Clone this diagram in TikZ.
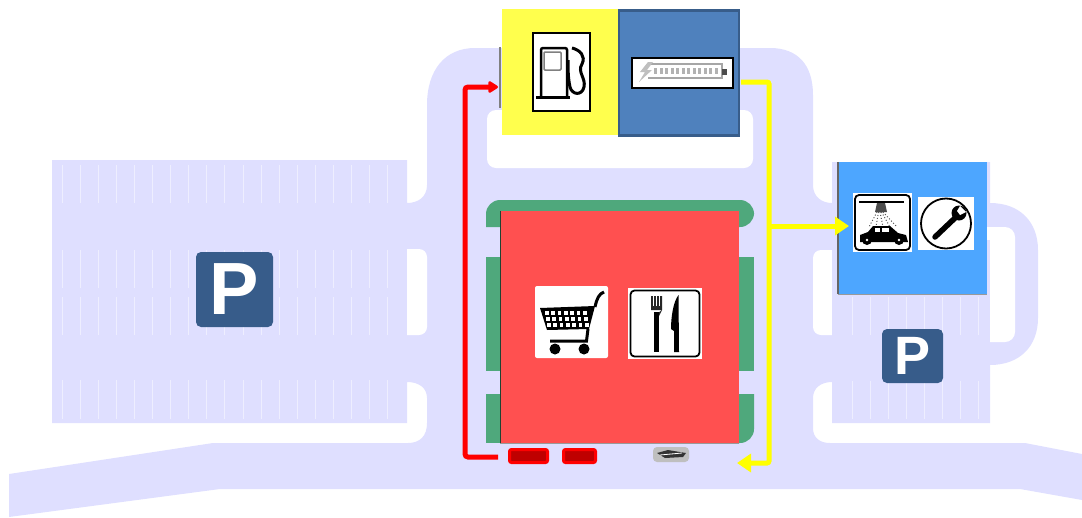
\documentclass[tikz,border=0pt]{standalone}
\usepackage{fontspec}
\setmainfont{Liberation Sans}
\usetikzlibrary{arrows.meta}
\definecolor{roadcol}{HTML}{DFDFFF}
\definecolor{slotcol}{HTML}{EEEEFF}
\definecolor{shopgreen}{HTML}{4FA87C}
\definecolor{shopred}{HTML}{FF5050}
\definecolor{fuelyellow}{HTML}{FFFF4D}
\definecolor{routeyellow}{HTML}{FFFF00}
\definecolor{routered}{HTML}{FF0000}
\definecolor{chargeblue}{HTML}{4F81BD}
\definecolor{chargeedge}{HTML}{385D8A}
\definecolor{washblue}{HTML}{4DA6FF}
\definecolor{signblue}{HTML}{375C8A}
\begin{document}
\begin{tikzpicture}[
    x=1pt, y=-1pt,
    block/.style={rectangle, inner sep=0pt},
    iconbox/.style={rectangle, fill=white, inner sep=0pt},
    parksign/.style={rectangle, rounded corners=5pt, fill=signblue, text=white, inner sep=0pt, font=\bfseries},
    barcar/.style={rectangle, rounded corners=2pt, draw=routered, line width=3pt, fill=routered!75!black, inner sep=0pt},
    redarrow/.style={-{Triangle[round, length=11pt, width=13pt]}, routered, line width=5pt, rounded corners=3pt},
    yellowarrow/.style={-{Triangle[length=14pt, width=18pt]}, routeyellow, line width=5pt, rounded corners=2pt},
    slotline/.style={slotcol, line width=1pt},
]
\useasboundingbox (0,0) rectangle (1082,517);

% Road and parking
\fill[roadcol] (52,160) -- (407,160) -- (407,203) .. controls (418,203) and (427,197) .. (427,185)
    -- (427,105) .. controls (427,70) and (445,48) .. (475,48) -- (770,48)
    .. controls (798,48) and (813,65) .. (813,95) -- (813,185) .. controls (813,197) and (822,203) .. (832,203)
    -- (832,162) -- (990,162) -- (990,203) .. controls (1020,203) and (1038,222) .. (1038,250)
    -- (1038,318) .. controls (1038,346) and (1020,365) .. (990,365)
    -- (990,423) -- (832,423) -- (832,382) .. controls (821,382) and (813,388) .. (813,398)
    -- (813,428) .. controls (813,438) and (820,443) .. (830,443) -- (1025,443) -- (1082,454)
    -- (1082,500) -- (1020,489) -- (220,489) -- (9,517) -- (9,474) -- (213,443) -- (408,443)
    .. controls (420,443) and (427,436) .. (427,423) -- (427,398) .. controls (427,388) and (419,382) .. (407,382)
    -- (407,423) -- (52,423) -- cycle;
% Holes in the road
\fill[white, rounded corners=9pt] (487,110) rectangle (753,168);
\fill[white, rounded corners=8pt] (407,249) -- (427,249) -- (427,335) -- (407,335) [sharp corners] -- (400,335) -- (400,249) -- cycle;
\fill[white, rounded corners=8pt] (832,250) -- (813,250) -- (813,335) -- (832,335) [sharp corners] -- (836,335) -- (836,250) -- cycle;
\fill[white, rounded corners=10pt] (990,227) -- (1015,227) -- (1015,342) -- (990,342) [sharp corners] -- (985,342) -- (985,227) -- cycle;
\fill[roadcol] (52,240) rectangle (407,345);
\fill[roadcol] (832,240) rectangle (990,345);

% Parking slots
\foreach \i in {0,...,18} {
    \draw[slotline] (62+18.1*\i,165) -- (62+18.1*\i,203);
    \draw[slotline] (62+18.1*\i,250) -- (62+18.1*\i,288);
    \draw[slotline] (62+18.1*\i,297) -- (62+18.1*\i,335);
    \draw[slotline] (62+18.1*\i,380) -- (62+18.1*\i,419);
}
\foreach \i in {0,...,7} {
    \draw[slotline] (852+18*\i,297) -- (852+18*\i,335);
    \draw[slotline] (852+18*\i,381) -- (852+18*\i,419);
}

% Green strips
\fill[shopgreen, rounded corners=14pt] (486,227) -- (486,200) -- (754,200) -- (754,227) [sharp corners] -- cycle;
\fill[shopgreen] (486,257) rectangle (754,371);
\fill[shopgreen] (486,394) rectangle (740,443);
\fill[shopgreen, rounded corners=14pt] (720,394) [sharp corners] -- (754,394) [rounded corners=14pt] -- (754,443) -- (720,443) [sharp corners] -- cycle;

% Buildings
\node[block, fill=shopred, minimum width=238pt, minimum height=232pt] (shop) at (619.5,327) {};
\draw[black!60!shopgreen, line width=1pt] (shop.north west) -- (shop.south west);
\draw[black!40, line width=0.6pt] (shop.south west) -- (shop.south east);
\node[block, fill=fuelyellow, minimum width=117pt, minimum height=126pt] (fuel) at (560,72) {};
\draw[gray, line width=1.5pt] (500,47) -- (500,108);
\node[block, fill=chargeblue, draw=chargeedge, line width=2.5pt, minimum width=120pt, minimum height=125pt] (charge) at (679,73) {};
\node[block, fill=washblue, minimum width=149pt, minimum height=132pt] (wash) at (912.5,228) {};
\draw[black!60, line width=1.5pt] (wash.north west) -- (wash.south west);
\draw[black!40, line width=0.6pt] (wash.south west) -- (wash.south east);

% Parking signs
\node[parksign, minimum width=77pt, minimum height=75pt] (parkleft) at (234.5,289.5) {\fontsize{74}{74}\selectfont P};
\node[parksign, minimum width=61pt, minimum height=54pt] (parkright) at (912.5,356) {\fontsize{54}{54}\selectfont P};

% Fuel icon
\node[iconbox, draw=black, line width=2pt, minimum width=57pt, minimum height=78pt] (fuelicon) at (561,71.5) {};
\draw[black, line width=2.5pt, rounded corners=2pt] (541,97) -- (541,48) -- (567,48) -- (567,97);
\draw[black, line width=3pt] (536,97) -- (570,97);
\draw[gray, line width=1.5pt, rounded corners=1pt] (544,52) rectangle (561,70);
\draw[black, line width=3pt] (572,48) .. controls (580,50) and (586,56) .. (582,64) .. controls (577,72) and (586,78) .. (584,87)
    .. controls (582,96) and (572,95) .. (570,87) .. controls (568,78) and (568,68) .. (568,60);

% Battery icon
\node[iconbox, draw=black, line width=2pt, minimum width=101pt, minimum height=30pt] (batteryicon) at (682,72.5) {};
\draw[black!35, line width=1.5pt] (648,64) -- (722,64) -- (722,78) -- (648,78);
\fill[black!70] (722,69) rectangle (727,75);
\fill[black!25] (648,62) -- (640,72) -- (645,72) -- (639,82) -- (652,70) -- (647,70) -- (653,62) -- cycle;
\foreach \i in {0,...,11} {
    \fill[black!30] (654+5.5*\i,68) rectangle (657+5.5*\i,74);
}

% Cart icon
\node[iconbox, rounded corners=2pt, minimum width=73pt, minimum height=72pt] (carticon) at (571.5,322) {};
\fill[black] (540,308) -- (595,306) -- (589,329) -- (547,330) -- cycle;
\foreach \i in {0,...,6} {
    \foreach \j in {0,1,2} {
        \fill[white] (545+6.3*\i+\j,311+6*\j) rectangle ++(3.8,3.6);
    }
}
\draw[black, line width=3pt] (595,307) .. controls (597,298) and (599,294) .. (604,292);
\draw[black, line width=3pt] (588,329) -- (586.5,341) -- (550,341);
\fill[black] (555,349) circle (5.5pt);
\fill[black] (584,349) circle (5.5pt);

% Restaurant icon
\node[iconbox, minimum width=74pt, minimum height=71pt] (foodicon) at (665,323.5) {};
\draw[black, line width=1.8pt, rounded corners=4pt] (630.5,290.5) rectangle (699.5,356.5);
\fill[black!85] (651,296) rectangle (662,310) -- (659,316) -- (654,316) -- cycle;
\foreach \i in {1,2,3} {
    \draw[white, line width=0.8pt] (651+2.75*\i,296) -- (651+2.75*\i,306);
}
\fill[black] (654,312) rectangle (659,352);
\fill[black] (678.5,295) .. controls (673,302) and (671,318) .. (671,329) -- (674,331) -- (674,352) -- (679,352) -- cycle;

% Car wash icon
\node[iconbox, minimum width=59pt, minimum height=59pt] (washicon) at (882.5,222.5) {};
\draw[black, line width=1.8pt, rounded corners=4pt] (855,195) rectangle (910,250);
\draw[black, line width=2pt] (859,202) -- (904,202);
\fill[black!70] (877,203) -- (885,203) -- (887,212) -- (875,212) -- cycle;
\foreach \i in {0,...,4} {
    \draw[black!65, line width=1pt, dotted] (877+1.5*\i,212) -- (869+7*\i,227);
}
\fill[black] (860,242) -- (860,235) -- (868,232) -- (873,226) -- (890,226) -- (898,233) -- (906,235) -- (908,242) -- cycle;
\fill[white] (875,228) rectangle (880,232);
\fill[white] (882,228) rectangle (889,232);
\fill[black] (867,240) circle (5pt);
\fill[black] (899,240) circle (5pt);
\fill[white] (867,240) circle (1.3pt);
\fill[white] (899,240) circle (1.3pt);

% Wrench icon
\node[iconbox, minimum width=56pt, minimum height=53pt] (wrenchicon) at (946,223.5) {};
\draw[black, line width=1.8pt] (wrenchicon.center) circle (25pt);
\draw[black, line width=5.5pt, line cap=round] (935,237) -- (955,218);
\fill[black] (959,213) circle (7.5pt);
\fill[white] (960,206) -- (966,212) -- (960,215) -- (957,211) -- cycle;

% Cars at the shop
\node[barcar, minimum width=38pt, minimum height=13pt] (carone) at (528.5,456) {};
\node[barcar, minimum width=32pt, minimum height=13pt] (cartwo) at (579.5,456) {};
\node[rectangle, rounded corners=4pt, fill=black!25, minimum width=36pt, minimum height=15pt, inner sep=0pt] (carthree) at (671,454.5) {};
\fill[black!80] (657,453) -- (668,450) -- (686,453) -- (683,457) -- (665,458) -- cycle;
\draw[white, line width=0.8pt] (660,455) -- (682,453);

% Routes
\coordinate (redstart) at (498,457);
\coordinate (redup) at (465,87);
\coordinate (fuelin) at (498,87);
\coordinate (yellowstart) at (741,82);
\coordinate (yellowdown) at (769,463);
\coordinate (yellowend) at (737,463);
\coordinate (yellowfork) at (769,226);
\coordinate (washin) at (849,226);
\draw[redarrow] (redstart) -| (redup) -- (fuelin);
\draw[yellowarrow] (yellowstart) -| (yellowdown) -- (yellowend);
\draw[yellowarrow] (yellowfork) -- (washin);
\end{tikzpicture}
\end{document}
